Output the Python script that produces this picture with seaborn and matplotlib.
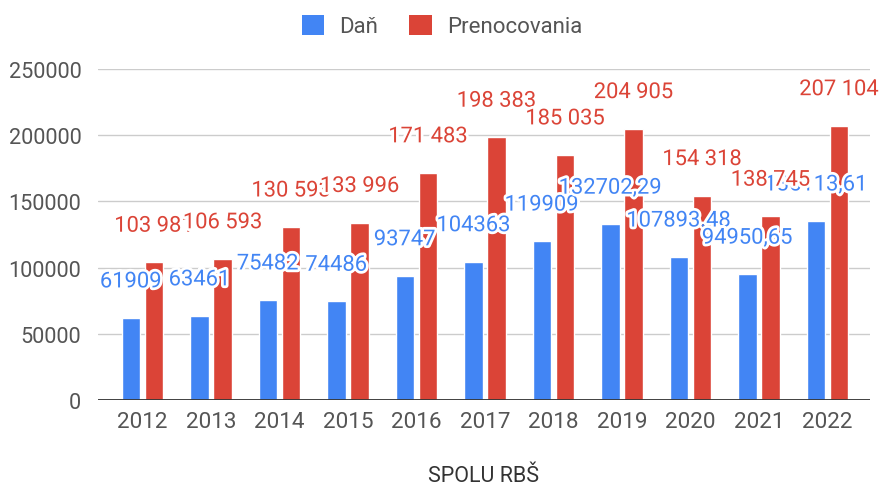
import matplotlib
matplotlib.use("Agg")
import matplotlib.pyplot as plt
import matplotlib.patheffects as pe
from matplotlib.patches import Patch
import seaborn as sns
import pandas as pd

years = ["2012", "2013", "2014", "2015", "2016", "2017", "2018", "2019", "2020", "2021", "2022"]
dan = [61909, 63461, 75482, 74486, 93747, 104363, 119909, 132702.29, 107893.48, 94950.65, 135113.61]
prenocovania = [103981, 106593, 130593, 133996, 171483, 198383, 185035, 204905, 154318, 138745, 207104]
dan_labels = ["61909", "63461", "75482", "74486", "93747", "104363", "119909", "132702,29",
              "107893.48", "94950,65", "135113,61"]
pren_labels = ["103 981", "106 593", "130 593", "133 996", "171 483", "198 383", "185 035",
               "204 905", "154 318", "138 745", "207 104"]
series = ["Daň", "Prenocovania"]
colors = ["#4285F4", "#DB4437"]
yticks = [0, 50000, 100000, 150000, 200000, 250000]

df = pd.DataFrame({
    "rok": years * 2,
    "hodnota": dan + prenocovania,
    "serie": [series[0]] * len(years) + [series[1]] * len(years),
})

sns.set_theme(style="white")
plt.rcParams["font.family"] = ["Roboto", "DejaVu Sans"]

fig = plt.figure(figsize=(8.83, 4.89), dpi=100)
ax = fig.add_axes([98 / 883, 1 - 401 / 489, 772 / 883, 331 / 489])

sns.barplot(data=df, x="rok", y="hodnota", hue="serie", palette=colors,
            width=0.68, gap=0.2, ax=ax, legend=False, zorder=3, saturation=1)

ax.set_ylim(0, 250000)
ax.set_xlim(-0.65, 10.62)
ax.set_yticks(yticks)
ax.set_yticklabels([str(v) for v in yticks])
ax.grid(axis="y", color="#cccccc", linewidth=1, zorder=0)
ax.set_axisbelow(True)
ax.axhline(0, color="#333333", linewidth=1.3, zorder=4)
for s in ax.spines.values():
    s.set_visible(False)
ax.tick_params(axis="both", length=0, labelcolor="#555555")
ax.tick_params(axis="y", pad=12, labelsize=15.6)
ax.tick_params(axis="x", pad=8, labelsize=16.2)
ax.set_ylabel("")
ax.set_xlabel("SPOLU RBŠ", fontsize=15.5, color="#333333", labelpad=24)

stroke = [pe.withStroke(linewidth=4, foreground="white")]
for container, labels, col in zip(ax.containers, [dan_labels, pren_labels], colors):
    for bar, lab in zip(container, labels):
        ax.annotate(lab, (bar.get_x() + bar.get_width() / 2, bar.get_height()),
                    xytext=(0, 26), textcoords="offset points", ha="center", va="center",
                    fontsize=15.8, color=col, path_effects=stroke, zorder=5,
                    annotation_clip=False)

handles = [Patch(facecolor=c, edgecolor="none") for c in colors]
fig.legend(handles, series, loc="center", bbox_to_anchor=(442 / 883, 1 - 27 / 489), ncol=2,
           frameon=False, fontsize=16, handlelength=1.0, handleheight=1.05,
           handletextpad=0.7, columnspacing=1.4, labelcolor="#555555")

fig.savefig("out.png", dpi=100)
